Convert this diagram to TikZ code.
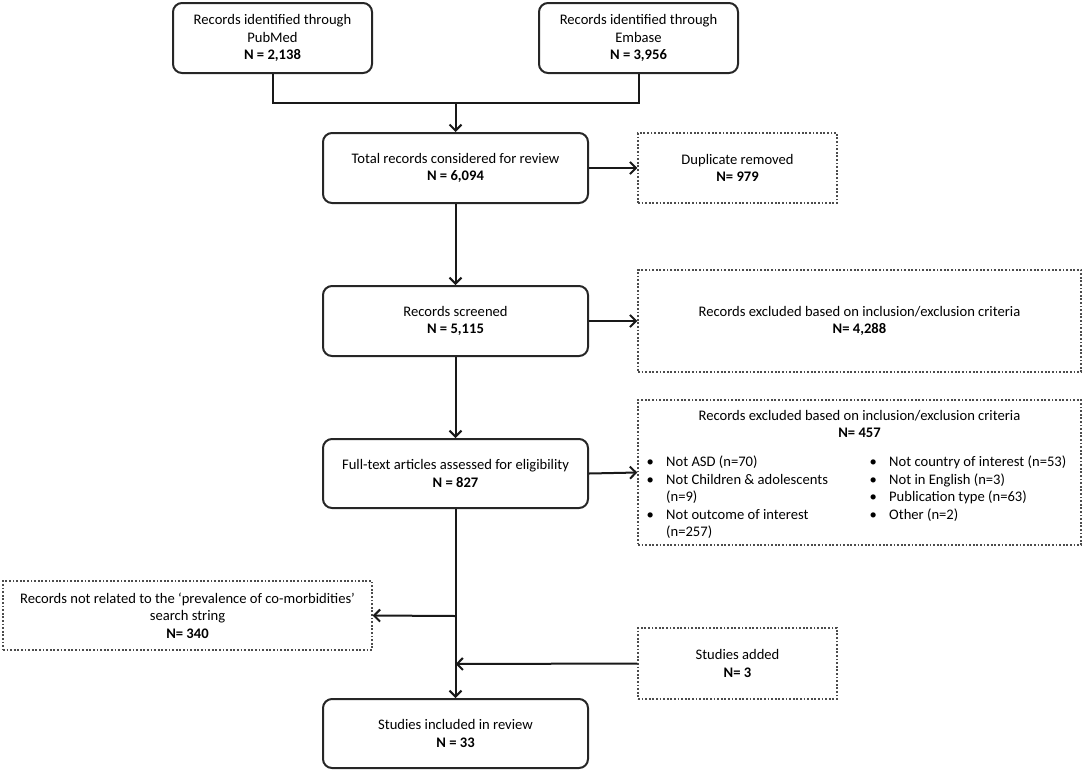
\documentclass[tikz,border=0pt]{standalone}
\usepackage{fontspec}
\setmainfont{Carlito}
\usetikzlibrary{arrows.meta}
\begin{document}
\begin{tikzpicture}[x=1pt,y=-1pt,
  font=\fontsize{14.6}{17.5}\selectfont,
  >={Straight Barb[length=6pt,width=12pt]},
  solidbox/.style={draw=black!85,line width=2pt,rounded corners=9pt,inner sep=0pt,align=center},
  dotbox/.style={draw=black!70,line width=1.3pt,dash pattern=on 1.8pt off 1.8pt,inner sep=0pt,align=center},
  conn/.style={draw=black!90,line width=2pt}]
\useasboundingbox (0,0) rectangle (1084,772);
\node[solidbox,minimum width=199pt,minimum height=70pt] (pub) at (272.5,38) {Records identified through\\PubMed\\\textbf{N = 2,138}};
\node[solidbox,minimum width=199pt,minimum height=70pt] (emb) at (638.5,38) {Records identified through\\Embase\\\textbf{N = 3,956}};
\node[solidbox,minimum width=265pt,minimum height=70pt] (total) at (455.5,168) {Total records considered for review\\\textbf{N = 6,094}};
\node[dotbox,minimum width=199pt,minimum height=70pt] (dup) at (737.5,168) {Duplicate removed\\\textbf{N= 979}};
\node[solidbox,minimum width=265pt,minimum height=70pt] (scr) at (455.5,321) {Records screened\\\textbf{N = 5,115}};
\node[dotbox,minimum width=443pt,minimum height=102pt] (ex1) at (859.5,321) {Records excluded based on inclusion/exclusion criteria\\\textbf{N= 4,288}};
\node[solidbox,minimum width=265pt,minimum height=69pt] (full) at (455.5,473.5) {Full-text articles assessed for eligibility\\\textbf{N = 827}};
\node[dotbox,minimum width=443pt,minimum height=145pt] (ex2) at (859.5,472.5) {};
\node (ex2t) at (859.5,424) [align=center,inner sep=0pt] {Records excluded based on inclusion/exclusion criteria\\\textbf{N= 457}};
\node (ex2l) at (634,454.5) [anchor=north west,inner sep=0pt] {\begin{tabular}{@{}l@{}l@{}}
\makebox[32pt]{\textbullet} & Not ASD (n=70)\\
\makebox[32pt]{\textbullet} & Not Children \& adolescents\\
 & (n=9)\\
\makebox[32pt]{\textbullet} & Not outcome of interest\\
 & (n=257)
\end{tabular}};
\node (ex2r) at (857,454.5) [anchor=north west,inner sep=0pt] {\begin{tabular}{@{}l@{}l@{}}
\makebox[32pt]{\textbullet} & Not country of interest (n=53)\\
\makebox[32pt]{\textbullet} & Not in English (n=3)\\
\makebox[32pt]{\textbullet} & Publication type (n=63)\\
\makebox[32pt]{\textbullet} & Other (n=2)
\end{tabular}};
\node[dotbox,minimum width=369pt,minimum height=69pt] (left) at (187.5,615.5) {Records not related to the ‘prevalence of co-morbidities’\\search string\\\textbf{N= 340}};
\node[dotbox,minimum width=199pt,minimum height=71pt] (add) at (737.5,663.5) {Studies added\\\textbf{N= 3}};
\node[solidbox,minimum width=265pt,minimum height=69pt] (incl) at (455.5,733.5) {Studies included in review\\\textbf{N = 33}};
\coordinate (j1) at (455.5,103);
\coordinate (j2) at (455.5,616);
\coordinate (j3) at (455.5,664);
\draw[conn] (pub.south) |- (j1) -| (emb.south);
\draw[conn,->] (j1) -- (total.north);
\draw[conn,->] (total.east) -- (dup.west);
\draw[conn,->] (total.south) -- (scr.north);
\draw[conn,->] (scr.east) -- (ex1.west);
\draw[conn,->] (scr.south) -- (full.north);
\draw[conn,->] (full.east) -- (ex2.west);
\draw[conn,->] (full.south) -- (incl.north);
\draw[conn,->] (j2) -- (left.east);
\draw[conn,->] (add.west) -- (j3);
\end{tikzpicture}
\end{document}
